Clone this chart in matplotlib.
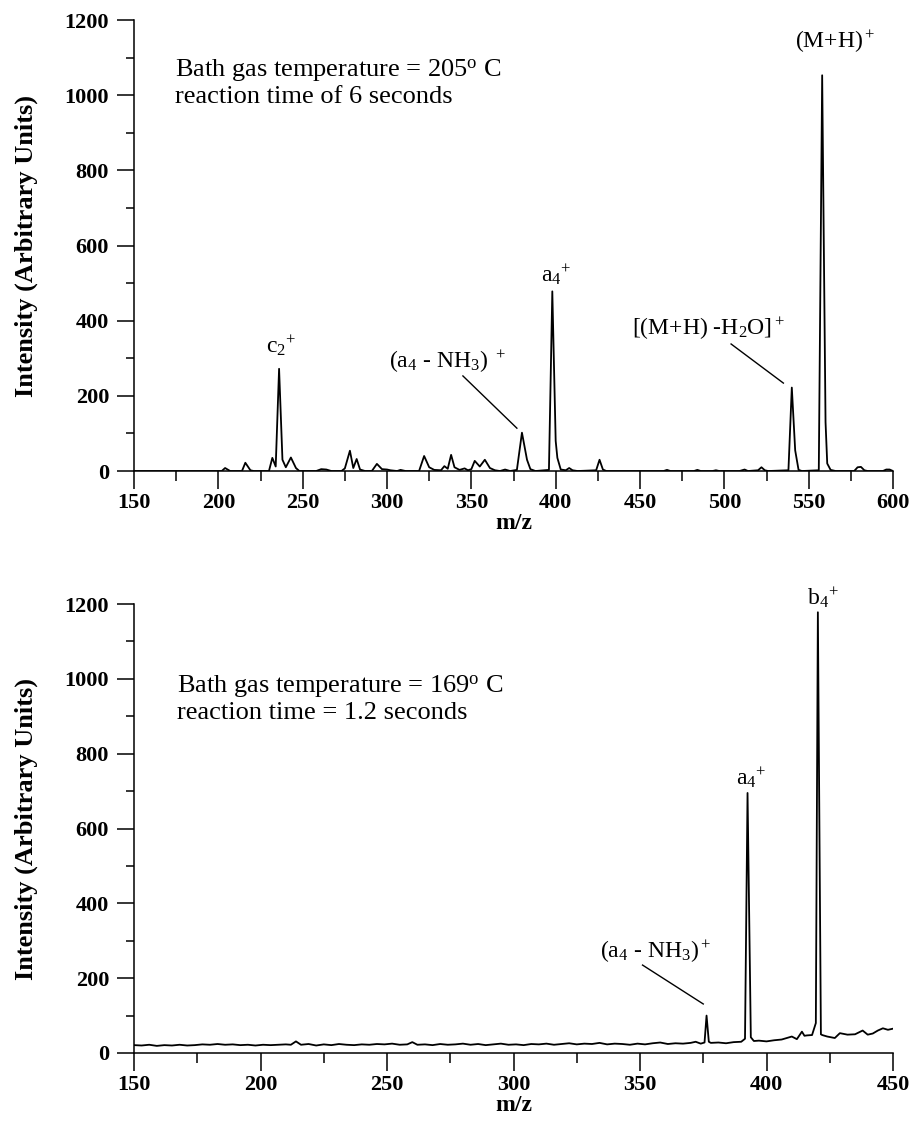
import numpy as np
import matplotlib
matplotlib.use("Agg")
import matplotlib.pyplot as plt
from matplotlib.ticker import MultipleLocator

plt.rcParams["font.family"] = ["Liberation Serif", "DejaVu Serif"]
plt.rcParams["mathtext.fontset"] = "custom"
plt.rcParams["mathtext.rm"] = "Liberation Serif"
plt.rcParams["mathtext.it"] = "Liberation Serif:italic"
plt.rcParams["mathtext.bf"] = "Liberation Serif:bold"

# Top spectrum: 205 C bath gas, 6 s reaction time
top_mz = [150, 202, 204, 207, 214, 216, 219, 221, 230, 232, 234, 236, 238, 240,
          243, 246, 248, 258, 261, 264, 267, 273, 275, 278, 280, 282, 284, 287,
          291, 294, 297, 300, 302, 306, 308, 311, 319, 322, 325, 328, 332, 334,
          336, 338, 340, 343, 346, 348, 350, 352, 355, 358, 361, 364, 367, 370,
          373, 377, 380, 383, 385, 388, 396, 398, 400, 401, 403, 406, 408, 410,
          413, 424, 426, 428, 430, 464, 466, 468, 482, 484, 486, 493, 495, 497,
          509, 512, 514, 520, 522, 524, 526, 538, 540, 542, 544, 546, 556, 558,
          560, 561, 563, 566, 577, 579, 581, 583, 585, 594, 596, 598, 600]
top_int = [0, 0, 8, 0, 0, 22, 2, 0, 0, 35, 12, 272, 30, 10,
           36, 8, 0, 0, 5, 4, 0, 0, 7, 54, 8, 32, 4, 0,
           0, 19, 5, 4, 2, 0, 3, 0, 0, 40, 10, 3, 2, 13,
           6, 43, 10, 3, 7, 2, 5, 27, 12, 30, 8, 2, 0, 4,
           0, 3, 102, 30, 5, 0, 3, 478, 80, 35, 4, 2, 8, 2,
           0, 2, 30, 4, 0, 0, 3, 0, 0, 3, 0, 0, 2, 0,
           0, 4, 0, 2, 10, 2, 0, 2, 222, 55, 3, 0, 2, 1053,
           130, 20, 3, 0, 0, 10, 11, 2, 0, 0, 4, 4, 0]

# Bottom spectrum: 169 C bath gas, 1.2 s reaction time
bottom_mz = [150, 153, 156, 159, 162, 165, 168, 171, 174, 177, 180, 183, 186, 189,
             192, 195, 198, 201, 204, 207, 210, 212, 214, 216, 219, 222, 225, 228,
             231, 234, 237, 240, 243, 246, 249, 252, 255, 258, 260, 262, 265, 268,
             271, 274, 277, 280, 283, 286, 289, 292, 295, 298, 301, 304, 307, 310,
             313, 316, 319, 322, 325, 328, 331, 334, 337, 340, 343, 346, 349, 352,
             355, 358, 361, 364, 367, 370, 372, 374, 375.5, 376.3, 377.2, 378, 381,
             384, 387, 390, 391.5, 392.5, 393.8, 395, 397, 400, 403, 406, 408, 410,
             412, 414, 415, 416, 418, 419.5, 420.3, 421.5, 422, 424, 427, 429, 432,
             435, 438, 440, 442, 444, 446, 448, 450]
bottom_int = [21, 20, 22, 19, 21, 20, 22, 20, 21, 23, 22, 24, 22, 23,
              21, 22, 20, 22, 21, 22, 23, 22, 31, 22, 24, 20, 23, 21,
              24, 22, 21, 23, 22, 24, 23, 25, 22, 23, 29, 22, 23, 21,
              24, 22, 23, 25, 22, 24, 21, 23, 25, 22, 23, 21, 24, 23,
              25, 22, 24, 26, 23, 25, 24, 27, 23, 25, 24, 22, 25, 23,
              26, 28, 24, 26, 25, 27, 30, 25, 28, 100, 30, 27, 28,
              26, 29, 30, 38, 695, 42, 32, 33, 31, 34, 36, 40, 44,
              37, 57, 46, 47, 48, 80, 1178, 50, 48, 44, 40, 53, 49,
              50, 60, 49, 52, 60, 66, 62, 65]

ylabel = "Intensity (Arbitrary Units)"


def style_axes(ax, xmin, xmax):
    ax.set_xlim(xmin, xmax)
    ax.set_ylim(0, 1200)
    ax.spines["top"].set_visible(False)
    ax.spines["right"].set_visible(False)
    for s in ("left", "bottom"):
        ax.spines[s].set_linewidth(1.1)
    ax.xaxis.set_major_locator(MultipleLocator(50))
    ax.xaxis.set_minor_locator(MultipleLocator(25))
    ax.yaxis.set_major_locator(MultipleLocator(200))
    ax.yaxis.set_minor_locator(MultipleLocator(100))
    ax.tick_params(axis="both", which="major", direction="out", width=1.1,
                   labelsize=16)
    ax.tick_params(axis="x", which="major", length=13, pad=3)
    ax.tick_params(axis="x", which="minor", length=7, width=1.1)
    ax.tick_params(axis="y", which="major", length=12, pad=6)
    ax.tick_params(axis="y", which="minor", length=6, width=1.1)
    for lab in ax.get_xticklabels() + ax.get_yticklabels():
        lab.set_fontweight("bold")
    ax.set_ylabel(ylabel, fontsize=19, fontweight="bold", labelpad=19)
    ax.set_xlabel("m/z", fontsize=17, fontweight="bold", labelpad=0)


fig = plt.figure(figsize=(9.13, 11.32), dpi=100)
ax1 = fig.add_axes([0.1468, 0.5839, 0.8313, 0.3984])
ax2 = fig.add_axes([0.1468, 0.0698, 0.8313, 0.3966])

# --- top panel ---
ax1.plot(top_mz, top_int, color="black", linewidth=1.3)
style_axes(ax1, 150, 600)

lab_fs = 17
ax1.text(174, 1066, r"Bath gas temperature = 205$^{\mathrm{o}}$ C", fontsize=19,
         va="center")
ax1.text(174, 995, "reaction time of 6 seconds", fontsize=19, va="center")
ax1.text(228, 316, r"c$_{2}{}^{+}$", fontsize=lab_fs)
ax1.text(301, 274, r"(a$_4$ - NH$_3$) $^+$", fontsize=lab_fs)
ax1.text(391, 503, r"a$_{4}{}^{+}$", fontsize=lab_fs)
ax1.text(445, 362, r"[(M+H) -H$_2$O]$^+$", fontsize=lab_fs)
ax1.text(542, 1125, r"(M+H)$^+$", fontsize=lab_fs)
ax1.plot([345, 377], [253, 114], color="black", linewidth=1.0)
ax1.plot([504, 535], [338, 234], color="black", linewidth=1.0)

# --- bottom panel ---
ax2.plot(bottom_mz, bottom_int, color="black", linewidth=1.3)
style_axes(ax2, 150, 450)

ax2.text(167, 979, r"Bath gas temperature = 169$^{\mathrm{o}}$ C", fontsize=19,
         va="center")
ax2.text(167, 909, "reaction time = 1.2 seconds", fontsize=19, va="center")
ax2.text(334, 254, r"(a$_4$ - NH$_3$)$^+$", fontsize=lab_fs)
ax2.text(388, 717, r"a$_{4}{}^{+}$", fontsize=lab_fs)
ax2.text(416, 1198, r"b$_{4}{}^{+}$", fontsize=lab_fs)
ax2.plot([351, 375], [235, 131], color="black", linewidth=1.0)

fig.savefig("out.png", dpi=100)
